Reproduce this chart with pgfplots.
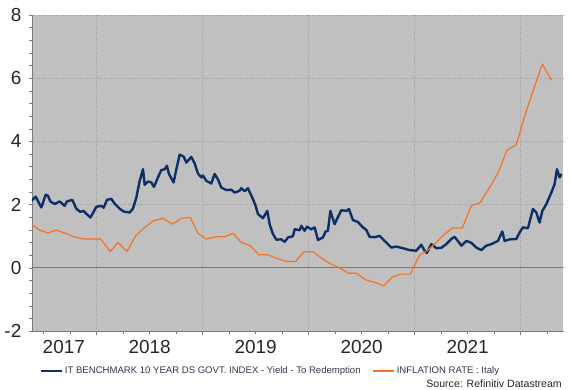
\documentclass[border=0pt]{standalone}
\usepackage{pgfplots}
\usepackage{pgfplotstable}
\pgfplotsset{compat=1.18}
\usepackage{fontspec}
\setmainfont{Liberation Sans}
\definecolor{bgc}{HTML}{C0C0C0}
\definecolor{gridc}{HTML}{9E9E9E}
\definecolor{axc}{HTML}{7A7A7A}
\definecolor{navy}{HTML}{0B2F66}
\definecolor{orng}{HTML}{F7721E}
\definecolor{txt}{HTML}{262626}
\definecolor{legt}{HTML}{33334D}

\pgfplotstableread{
x y
2017.384 2.12
2017.425 2.25
2017.478 1.91
2017.519 2.31
2017.541 2.28
2017.563 2.10
2017.604 2.02
2017.651 2.10
2017.698 1.96
2017.720 2.10
2017.771 2.15
2017.808 1.87
2017.846 1.77
2017.877 1.80
2017.903 1.71
2017.941 1.59
2017.997 1.93
2018.044 1.96
2018.066 1.90
2018.097 2.15
2018.139 2.18
2018.170 2.03
2018.217 1.87
2018.255 1.78
2018.311 1.75
2018.342 1.87
2018.375 2.23
2018.406 2.75
2018.437 3.12
2018.453 2.63
2018.484 2.73
2018.516 2.70
2018.541 2.56
2018.578 2.86
2018.610 3.09
2018.642 3.12
2018.663 3.23
2018.682 2.97
2018.726 2.70
2018.752 3.12
2018.783 3.58
2018.821 3.52
2018.846 3.33
2018.893 3.51
2018.925 3.30
2018.956 2.98
2018.988 2.86
2019.003 2.92
2019.035 2.75
2019.082 2.67
2019.113 2.97
2019.144 2.80
2019.176 2.54
2019.224 2.46
2019.271 2.47
2019.302 2.38
2019.349 2.44
2019.365 2.52
2019.396 2.42
2019.427 2.52
2019.475 2.17
2019.500 1.96
2019.522 1.70
2019.569 1.57
2019.610 1.80
2019.632 1.38
2019.663 1.07
2019.695 0.89
2019.742 0.90
2019.774 0.82
2019.805 0.96
2019.852 1.00
2019.868 1.22
2019.915 1.19
2019.931 1.33
2019.962 1.17
2019.984 1.30
2020.025 1.22
2020.057 1.28
2020.088 0.88
2020.135 0.96
2020.160 1.15
2020.182 1.17
2020.205 1.80
2020.245 1.38
2020.271 1.57
2020.308 1.82
2020.356 1.80
2020.380 1.86
2020.418 1.51
2020.465 1.45
2020.512 1.28
2020.544 1.20
2020.575 0.98
2020.623 0.97
2020.670 1.01
2020.717 0.85
2020.780 0.64
2020.827 0.67
2020.890 0.62
2020.953 0.56
2021.016 0.54
2021.063 0.73
2021.094 0.54
2021.116 0.47
2021.158 0.75
2021.205 0.62
2021.252 0.63
2021.299 0.75
2021.346 0.91
2021.377 0.98
2021.408 0.85
2021.441 0.70
2021.488 0.85
2021.535 0.79
2021.582 0.64
2021.629 0.56
2021.676 0.70
2021.724 0.75
2021.786 0.85
2021.827 1.15
2021.849 0.85
2021.896 0.90
2021.959 0.91
2021.991 1.12
2022.022 1.28
2022.069 1.25
2022.116 1.86
2022.148 1.75
2022.179 1.43
2022.205 1.80
2022.242 2.01
2022.290 2.38
2022.321 2.65
2022.343 3.12
2022.368 2.86
2022.384 2.97
}\yieldtab

\pgfplotstableread{
x y
2017.384 1.38
2017.462 1.19
2017.541 1.10
2017.620 1.19
2017.698 1.10
2017.776 0.99
2017.871 0.91
2017.953 0.91
2018.038 0.91
2018.129 0.52
2018.201 0.80
2018.286 0.52
2018.368 1.01
2018.453 1.28
2018.538 1.49
2018.625 1.57
2018.714 1.38
2018.799 1.57
2018.884 1.59
2018.956 1.09
2019.035 0.91
2019.123 0.98
2019.208 0.98
2019.286 1.09
2019.365 0.80
2019.450 0.70
2019.531 0.41
2019.616 0.41
2019.701 0.30
2019.790 0.20
2019.877 0.20
2019.956 0.51
2020.041 0.51
2020.120 0.31
2020.198 0.14
2020.286 0.01
2020.371 -0.17
2020.450 -0.17
2020.535 -0.38
2020.623 -0.46
2020.708 -0.57
2020.795 -0.28
2020.875 -0.20
2020.959 -0.20
2021.047 0.40
2021.125 0.56
2021.205 0.80
2021.283 1.07
2021.361 1.26
2021.450 1.26
2021.535 1.96
2021.620 2.07
2021.708 2.54
2021.792 3.04
2021.871 3.72
2021.959 3.89
2022.044 4.86
2022.123 5.65
2022.205 6.45
2022.290 5.94
}\inflTab

\begin{document}
\begin{tikzpicture}
\begin{axis}[
  scale only axis,
  width=531bp, height=316bp,
  at={(0,0)}, anchor=south west,
  xmin=2017.39, xmax=2022.40,
  ymin=-2, ymax=8,
  axis x line*=bottom, axis y line*=left,
  axis line style={axc, line width=0.8pt},
  axis background/.style={fill=bgc},
  xtick={2018,2019,2020,2021,2022},
  xticklabels={},
  minor xtick={2017.5,2017.75,2018.25,2018.5,2018.75,2019.25,2019.5,2019.75,2020.25,2020.5,2020.75,2021.25,2021.5,2021.75,2022.25},
  ytick={-2,0,2,4,6,8},
  minor y tick num=4,
  xmajorgrids, ymajorgrids,
  major grid style={gridc, dotted, line width=0.8pt},
  tick align=outside,
  major tick length=3.5bp, minor tick length=3bp,
  tick style={axc, line width=0.6pt},
  every tick/.style={axc},
  /pgf/number format/assume math mode=true,
  ticklabel style={font=\fontsize{19}{19}\selectfont, text=txt},
  yticklabel style={inner sep=0pt, xshift=-7bp},
  extra x ticks={2017.69,2018.5,2019.5,2020.5,2021.5},
  extra x tick labels={2017,2018,2019,2020,2021},
  extra x tick style={major tick length=0pt, grid=none, xticklabel style={inner sep=0pt, yshift=-9bp}},
  extra y ticks={0},
  extra y tick labels={},
  extra y tick style={grid=major, major grid style={axc, solid, line width=1.3pt}, major tick length=0pt},
  clip=true,
  legend columns=2,
  legend style={at={(5bp,-40bp)}, anchor=west, draw=none, fill=none,
    font=\fontsize{9.6}{11}\selectfont, text=legt,
    nodes={inner sep=2bp}, column sep=0pt},
  /tikz/every even column/.append style={column sep=10bp},
  legend image code/.code={\draw[#1] (0bp,0bp) -- (21bp,0bp);},
]
\addplot[navy, line width=2.4pt, line join=round] table[x=x,y=y] {\yieldtab};
\addlegendentry{IT BENCHMARK 10 YEAR DS GOVT. INDEX - Yield - To Redemption}
\addplot[orng, line width=1.2pt, line join=round] table[x=x,y=y] {\inflTab};
\addlegendentry{INFLATION RATE : Italy}
\end{axis}
\node[anchor=base east, inner sep=0pt, font=\fontsize{10.6}{12}\selectfont, text=txt] at (530bp,-56bp) {Source: Refinitiv Datastream};
\pgfresetboundingbox
\path[use as bounding box] (-32bp,-59bp) rectangle (540bp,331bp);
\end{tikzpicture}
\end{document}
